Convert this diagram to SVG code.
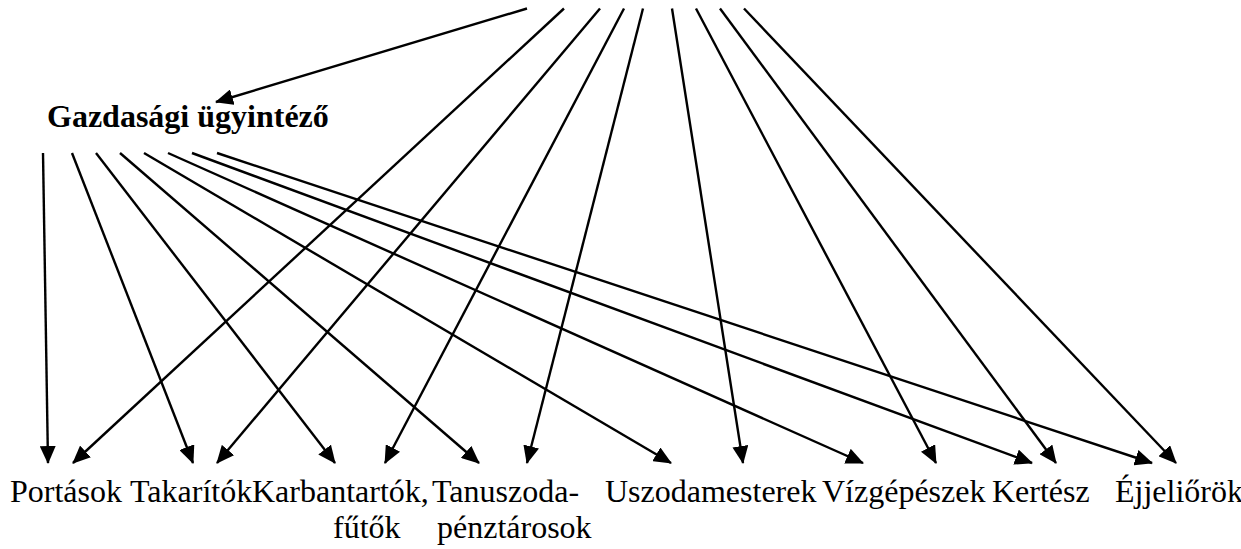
<svg xmlns="http://www.w3.org/2000/svg" width="1241" height="549" viewBox="0 0 1241 549" font-family="Liberation Serif, Times New Roman, serif" style="font-family:'Liberation Serif','Times New Roman',serif">
<style>
svg, g, text { font-family: "Liberation Serif", "Times New Roman", serif; }
.c{stroke:#000;stroke-width:2.4;fill:none;marker-end:url(#ah)}
.lbl{font-size:32px;fill:#000}
.bold{font-weight:bold}
</style>
<defs>
<marker id="ah" markerUnits="userSpaceOnUse" markerWidth="18" markerHeight="16" refX="17" refY="8" orient="auto">
<path d="M0,0 L18,8 L0,16 z" fill="#000"/>
</marker>
</defs>
<rect width="1241" height="549" fill="#fff"/>
<g id="connectors">
<path class="c" d="M527,8.5 L216,102"/>
<path class="c" d="M564,8.5 L73,463"/>
<path class="c" d="M600,8.5 L217,463"/>
<path class="c" d="M624,8.5 L385,463"/>
<path class="c" d="M643,8.5 L527,463"/>
<path class="c" d="M672,8.5 L743,463"/>
<path class="c" d="M696,8.5 L936,463"/>
<path class="c" d="M720,8.5 L1056,463"/>
<path class="c" d="M744,8.5 L1176,463"/>
<path class="c" d="M43,153 L48,463"/>
<path class="c" d="M72,153 L193,463"/>
<path class="c" d="M96,153 L335,463"/>
<path class="c" d="M120,153 L479,463"/>
<path class="c" d="M144,153 L671,463"/>
<path class="c" d="M168,153 L863,463"/>
<path class="c" d="M192,153 L1032,463"/>
<path class="c" d="M217,153 L1152,463"/>
</g>
<g id="gazdasagi"><text class="lbl bold" x="47" y="127">Gazdasági ügyintéző</text></g>
<g id="portasok"><text class="lbl" x="10" y="502">Portások</text></g>
<g id="takaritok"><text class="lbl" x="130" y="502">Takarítók</text></g>
<g id="karbantartok"><text class="lbl" x="252" y="502">Karbantartók,</text><text class="lbl" x="333" y="538">fűtők</text></g>
<g id="tanuszoda"><text class="lbl" x="432" y="502">Tanuszoda-</text><text class="lbl" x="437" y="538">pénztárosok</text></g>
<g id="uszodamesterek"><text class="lbl" x="605" y="502">Uszodamesterek</text></g>
<g id="vizgepeszek"><text class="lbl" x="822" y="502">Vízgépészek</text></g>
<g id="kertesz"><text class="lbl" x="992" y="502">Kertész</text></g>
<g id="ejjeliorok"><text class="lbl" x="1115" y="502">Éjjeliőrök</text></g>
</svg>
